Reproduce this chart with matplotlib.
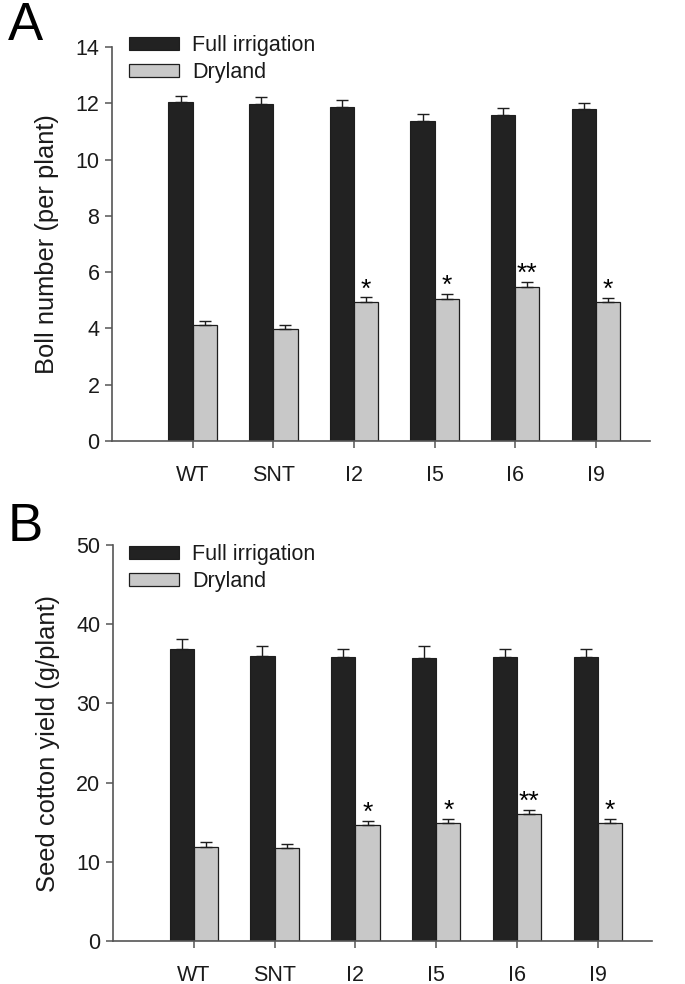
import matplotlib
matplotlib.use("Agg")
import matplotlib.pyplot as plt
import numpy as np

plt.rcParams['font.family'] = ['Liberation Sans', 'DejaVu Sans']

categories = ["WT", "SNT", "I2", "I5", "I6", "I9"]
series_names = ["Full irrigation", "Dryland"]

boll_full = [12.03, 11.98, 11.88, 11.36, 11.60, 11.78]
boll_full_err = [0.22, 0.23, 0.23, 0.26, 0.25, 0.23]
boll_dry = [4.12, 3.97, 4.95, 5.05, 5.48, 4.95]
boll_dry_err = [0.15, 0.14, 0.15, 0.17, 0.17, 0.14]
boll_sig = ["", "", "*", "*", "**", "*"]

yield_full = [36.9, 36.0, 35.9, 35.7, 35.9, 35.9]
yield_full_err = [1.25, 1.25, 1.0, 1.55, 0.95, 1.0]
yield_dry = [11.9, 11.7, 14.7, 14.9, 16.0, 14.9]
yield_dry_err = [0.55, 0.55, 0.45, 0.5, 0.55, 0.5]
yield_sig = ["", "", "*", "*", "**", "*"]

DARK = "#222222"
GRAY = "#c8c8c8"
EDGE = "#1e1e1e"
SPINE = "#555555"
TXT = "#1a1a1a"

fig = plt.figure(figsize=(6.85, 9.84), dpi=100)


def panel(rect, full, full_err, dry, dry_err, sig, ymax, ystep, ylabel, legend_top_px, letter, letter_top_px):
    ax = fig.add_axes(rect)
    x = np.arange(len(categories))
    w = 0.3
    ek = dict(elinewidth=1.0, capsize=4.0, capthick=1.0, ecolor=EDGE)
    b1 = ax.bar(x - w / 2, full, w, color=DARK, edgecolor=EDGE, linewidth=0.8,
                yerr=[np.zeros(len(full)), full_err], error_kw=ek, label=series_names[0], zorder=2)
    b2 = ax.bar(x + w / 2, dry, w, color=GRAY, edgecolor=EDGE, linewidth=0.9,
                yerr=[np.zeros(len(dry)), dry_err], error_kw=ek, label=series_names[1], zorder=2)
    for xi, v, e, s in zip(x, dry, dry_err, sig):
        if s:
            ax.annotate(s, (xi + w / 2, v + e), xytext=(0, -3), textcoords="offset points",
                        ha="center", va="bottom", fontsize=19, color="black")
    ax.set_xlim(-1.0, 5.67)
    ax.set_ylim(0, ymax)
    ax.set_yticks(np.arange(0, ymax + 0.01, ystep))
    ax.set_xticks(x)
    ax.set_xticklabels(categories)
    for sp in ["top", "right"]:
        ax.spines[sp].set_visible(False)
    for sp in ["left", "bottom"]:
        ax.spines[sp].set_color(SPINE)
        ax.spines[sp].set_linewidth(1.2)
    ax.tick_params(axis="both", direction="out", colors=SPINE, labelcolor=TXT,
                   labelsize=15.5, length=5, width=1.1)
    ax.tick_params(axis="x", pad=12)
    ax.tick_params(axis="y", pad=4)
    ax.set_ylabel(ylabel, fontsize=18.4, color=TXT, labelpad=12)
    leg = ax.legend(handles=[b1, b2], loc="upper left",
                    bbox_to_anchor=(129 / 685, 1 - legend_top_px / 984),
                    bbox_transform=fig.transFigure, frameon=False, fontsize=15.5,
                    handlelength=2.3, handleheight=0.55, handletextpad=0.62,
                    labelspacing=0.28, borderpad=0, borderaxespad=0)
    for t in leg.get_texts():
        t.set_color(TXT)
    fig.text(8 / 685, 1 - letter_top_px / 984, letter, fontsize=38, va="top", ha="left", color="black")
    return ax


panel([112 / 685, 1 - 441 / 984, (650 - 112) / 685, (441 - 47) / 984],
      boll_full, boll_full_err, boll_dry, boll_dry_err, boll_sig,
      14, 2, "Boll number (per plant)", 35, "A", 1)

panel([113 / 685, 1 - 941 / 984, (652 - 113) / 685, (941 - 545) / 984],
      yield_full, yield_full_err, yield_dry, yield_dry_err, yield_sig,
      50, 10, "Seed cotton yield (g/plant)", 544, "B", 502)

fig.savefig("out.png", dpi=100)
